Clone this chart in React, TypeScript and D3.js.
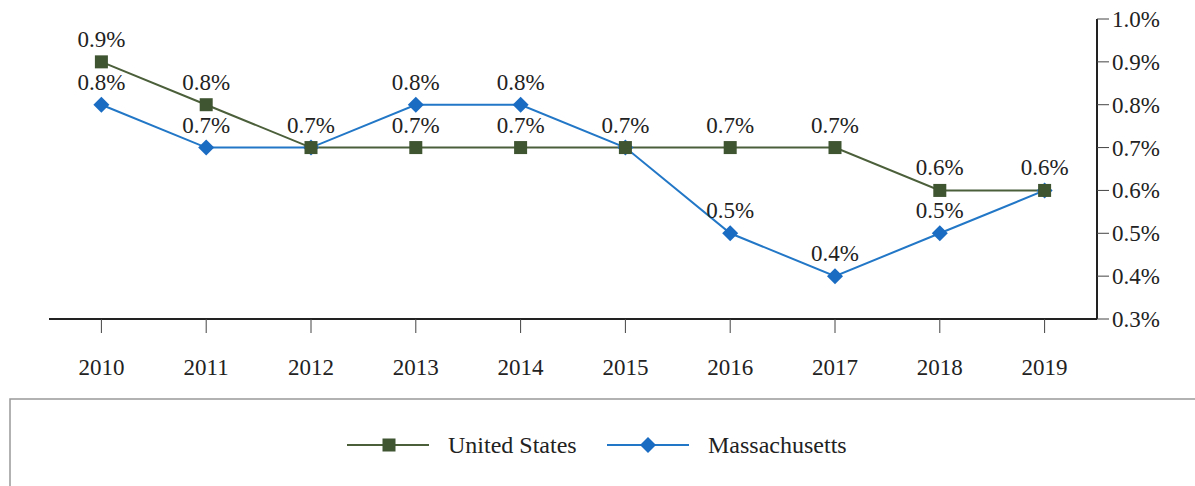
import React, { useEffect, useRef } from "react";
import * as d3 from "d3";

const years = ["2010", "2011", "2012", "2013", "2014", "2015", "2016", "2017", "2018", "2019"];
const usValues = [0.9, 0.8, 0.7, 0.7, 0.7, 0.7, 0.7, 0.7, 0.6, 0.6];
const maValues = [0.8, 0.7, 0.7, 0.8, 0.8, 0.7, 0.5, 0.4, 0.5, 0.6];
const yTicks = [0.3, 0.4, 0.5, 0.6, 0.7, 0.8, 0.9, 1.0];
const seriesNames = ["United States", "Massachusetts"];

const usColor = "#4b5f3a";
const usMarker = "#3f5431";
const maColor = "#2277c6";
const maMarker = "#1a6bc2";

const App: React.FC = () => {
  const ref = useRef<SVGSVGElement>(null);

  useEffect(() => {
    document.body.style.margin = "0";
    if (!ref.current) return;
    const svg = d3.select(ref.current);
    svg.selectAll("*").remove();

    const font = "'Liberation Serif', 'Times New Roman', serif";
    const left = 49;
    const right = 1097;
    const top = 19;
    const bottom = 319;

    // x: 연도 밴드, 중앙에 점
    const x = d3.scaleBand<string>().domain(years).range([left, right]);
    const cx = (d: string) => (x(d) ?? 0) + x.bandwidth() / 2;
    const y = d3.scaleLinear().domain([0.3, 1.0]).range([bottom, top]);

    // x축
    svg.append("line")
      .attr("x1", left).attr("x2", right)
      .attr("y1", bottom).attr("y2", bottom)
      .attr("stroke", "#222").attr("stroke-width", 2);
    svg.selectAll(".xtick")
      .data(years)
      .join("line")
      .attr("x1", cx).attr("x2", cx)
      .attr("y1", bottom).attr("y2", bottom + 14)
      .attr("stroke", "#444").attr("stroke-width", 1);
    svg.selectAll(".xlabel")
      .data(years)
      .join("text")
      .attr("x", cx)
      .attr("y", 375)
      .attr("text-anchor", "middle")
      .attr("font-family", font)
      .attr("font-size", 23)
      .attr("fill", "#222")
      .text(d => d);

    // 오른쪽 y축
    svg.append("line")
      .attr("x1", right).attr("x2", right)
      .attr("y1", top).attr("y2", bottom)
      .attr("stroke", "#222").attr("stroke-width", 2);
    svg.selectAll(".ytick")
      .data(yTicks)
      .join("line")
      .attr("x1", right).attr("x2", right + 12)
      .attr("y1", d => y(d)).attr("y2", d => y(d))
      .attr("stroke", "#444").attr("stroke-width", 1);
    svg.selectAll(".ylabel")
      .data(yTicks)
      .join("text")
      .attr("x", right + 15)
      .attr("y", d => y(d))
      .attr("dy", "0.35em")
      .attr("font-family", font)
      .attr("font-size", 23)
      .attr("fill", "#222")
      .text(d => d3.format(".1f")(d) + "%");

    const line = d3.line<number>()
      .x((_, i) => cx(years[i]))
      .y(d => y(d));

    // 선
    svg.append("path").datum(usValues)
      .attr("d", line).attr("fill", "none")
      .attr("stroke", usColor).attr("stroke-width", 2);
    svg.append("path").datum(maValues)
      .attr("d", line).attr("fill", "none")
      .attr("stroke", maColor).attr("stroke-width", 2);

    const diamond = (s: number) => `M0,${-s}L${s},0L0,${s}L${-s},0Z`;

    // 마커
    svg.selectAll(".ma")
      .data(maValues)
      .join("path")
      .attr("d", diamond(8))
      .attr("transform", (d, i) => `translate(${cx(years[i])},${y(d)})`)
      .attr("fill", maMarker);
    svg.selectAll(".us")
      .data(usValues)
      .join("rect")
      .attr("x", (_, i) => cx(years[i]) - 6.5)
      .attr("y", d => y(d) - 6.5)
      .attr("width", 13).attr("height", 13)
      .attr("fill", usMarker);

    // 데이터 라벨 (값이 같으면 하나만)
    const labels: { i: number; v: number }[] = [];
    years.forEach((_, i) => {
      labels.push({ i, v: usValues[i] });
      if (maValues[i] !== usValues[i]) labels.push({ i, v: maValues[i] });
    });
    svg.selectAll(".dlabel")
      .data(labels)
      .join("text")
      .attr("x", d => cx(years[d.i]))
      .attr("y", d => y(d.v) - 15)
      .attr("text-anchor", "middle")
      .attr("font-family", font)
      .attr("font-size", 23)
      .attr("fill", "#222")
      .text(d => d3.format(".1f")(d.v) + "%");

    // 범례
    svg.append("rect")
      .attr("x", 10).attr("y", 399)
      .attr("width", 1200).attr("height", 100)
      .attr("fill", "none").attr("stroke", "#999").attr("stroke-width", 1.5);

    const legendY = 445;
    const items = [
      { name: seriesNames[0], x0: 347, color: usColor, marker: usMarker, shape: "square" },
      { name: seriesNames[1], x0: 607, color: maColor, marker: maMarker, shape: "diamond" },
    ];
    items.forEach(it => {
      const g = svg.append("g");
      g.append("line")
        .attr("x1", it.x0).attr("x2", it.x0 + 82)
        .attr("y1", legendY).attr("y2", legendY)
        .attr("stroke", it.color).attr("stroke-width", 2);
      if (it.shape === "square") {
        g.append("rect")
          .attr("x", it.x0 + 42 - 6.5).attr("y", legendY - 6.5)
          .attr("width", 13).attr("height", 13)
          .attr("fill", it.marker);
      } else {
        g.append("path")
          .attr("d", diamond(8))
          .attr("transform", `translate(${it.x0 + 41},${legendY})`)
          .attr("fill", it.marker);
      }
      g.append("text")
        .attr("x", it.x0 + 101)
        .attr("y", legendY)
        .attr("dy", "0.35em")
        .attr("font-family", font)
        .attr("font-size", 24)
        .attr("fill", "#222")
        .text(it.name);
    });
  }, []);

  return <svg ref={ref} width={1195} height={486} style={{ display: "block", background: "#fff" }} />;
};

export default App;
